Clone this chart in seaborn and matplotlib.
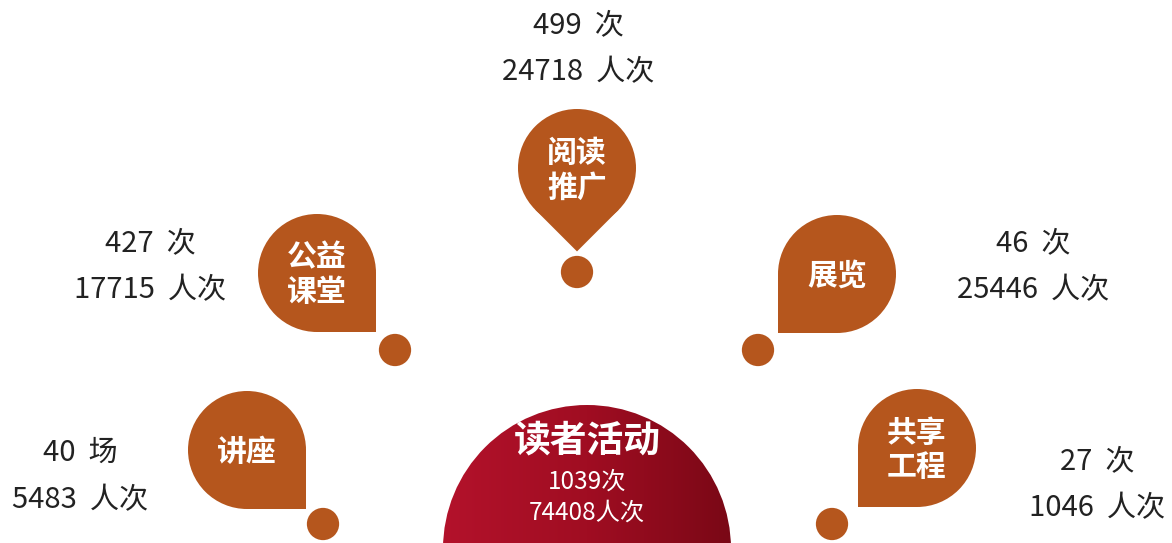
import numpy as np
import pandas as pd
import matplotlib.pyplot as plt
import seaborn as sns
from matplotlib.patches import Circle, Polygon
from matplotlib.colors import LinearSegmentedColormap

# data
categories = ["讲座", "公益\n课堂", "阅读\n推广", "展览", "共享\n工程"]
counts = [40, 427, 499, 46, 27]
count_units = ["场", "次", "次", "次", "次"]
visitors = [5483, 17715, 24718, 25446, 1046]
total_label = "读者活动"
total_count = 1039
total_visitors = 74408

# layout (pixel coords, y down)
drop_x = [247, 317, 577, 837, 917]
drop_y = [450, 273, 168, 274, 448]
drop_dir = [45, 45, 90, 135, 135]
dot_x = [323, 395, 577, 758, 832]
dot_y = [524, 350, 272, 350, 524]
stat_x = [80, 150, 578, 1033, 1097]
stat_y = [453, 243, 25, 243, 461]

ORANGE = "#B5561D"
W, H = 1172, 543

sns.set_theme(style="white")
plt.rcParams['font.family'] = ['Noto Sans CJK SC', 'DejaVu Sans']

fig = plt.figure(figsize=(W / 100, H / 100), dpi=100)
ax = fig.add_axes([0, 0, 1, 1])

# central half circle with gradient
R = 144
cx, cy = 587, 549
grad = np.linspace(0, 1, 256).reshape(1, -1)
cmap = LinearSegmentedColormap.from_list("red", ["#B3122B", "#A00D22", "#7A0816"])
im = ax.imshow(grad, cmap=cmap, extent=[cx - R, cx + R, cy + R, cy - R],
               aspect="auto", zorder=1)
clip = Circle((cx, cy), R, transform=ax.transData, facecolor="none", edgecolor="none")
ax.add_patch(clip)
im.set_clip_path(clip)

ax.text(cx, 441, total_label, color="white", fontsize=26.5, fontweight="bold",
        ha="center", va="center", zorder=3)
ax.text(cx, 482, f"{total_count}次", color="white", fontsize=17.5,
        fontweight="medium", ha="center", va="center", zorder=3)
ax.text(cx, 513, f"{total_visitors}人次", color="white", fontsize=17.5,
        fontweight="medium", ha="center", va="center", zorder=3)

# teardrops
r = 59
for lab, x, y, d in zip(categories, drop_x, drop_y, drop_dir):
    t = np.deg2rad(d)
    ax.add_patch(Circle((x, y), r, facecolor=ORANGE, edgecolor="none", zorder=2))
    tip = (x + r * np.sqrt(2) * np.cos(t), y + r * np.sqrt(2) * np.sin(t))
    p1 = (x + r * np.cos(t - np.pi / 4), y + r * np.sin(t - np.pi / 4))
    p2 = (x + r * np.cos(t + np.pi / 4), y + r * np.sin(t + np.pi / 4))
    ax.add_patch(Polygon([(x, y), p1, tip, p2], closed=True,
                         facecolor=ORANGE, edgecolor="none", zorder=2))
    ax.text(x, y + 2, lab, color="white", fontsize=21.5, fontweight="bold",
            ha="center", va="center", linespacing=1.2, zorder=3)

# small dots
dots = pd.DataFrame({"x": dot_x, "y": dot_y})
sns.scatterplot(data=dots, x="x", y="y", s=540, color=ORANGE,
                edgecolor="none", ax=ax, zorder=2, legend=False)
ax.set_xlim(0, W)
ax.set_ylim(H, 0)
ax.axis("off")

# stats
for n, u, v, x, y in zip(counts, count_units, visitors, stat_x, stat_y):
    ax.text(x, y, f"{n}  {u}", color="#222222", fontsize=21,
            ha="center", va="center", zorder=3)
    ax.text(x, y + 47, f"{v}  人次", color="#222222", fontsize=21,
            ha="center", va="center", zorder=3)

fig.savefig("out.png", dpi=100, facecolor="white")
